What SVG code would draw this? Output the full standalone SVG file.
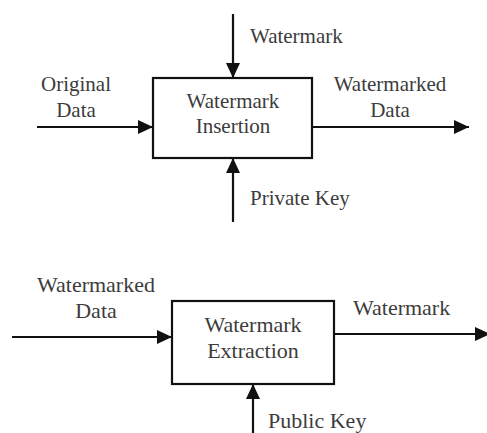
<svg xmlns="http://www.w3.org/2000/svg" width="487" height="433" viewBox="0 0 487 433">
<style>
.box{fill:#fff;stroke:#111;stroke-width:2.2}
.ln{stroke:#111;stroke-width:2.2;fill:none;marker-end:url(#ah)}
text{fill:#3c3c3c}
.t1{font-size:21px}
.t2{font-size:22px}
.c{text-anchor:middle}
</style>
<defs>
<marker id="ah" viewBox="0 0 15 14" refX="15" refY="7" markerWidth="15" markerHeight="14" markerUnits="userSpaceOnUse" orient="auto">
<path d="M0,0 L15,7 L0,14 Z" fill="#111"/>
</marker>
</defs>
<rect width="487" height="433" fill="#fff"/>
<g id="connectors">
<line class="ln" x1="233" y1="14" x2="233" y2="78"/>
<line class="ln" x1="37" y1="127" x2="153" y2="127"/>
<line class="ln" x1="312" y1="127" x2="469" y2="127"/>
<line class="ln" x1="233" y1="222" x2="233" y2="158"/>
<line class="ln" x1="12" y1="337" x2="172" y2="337"/>
<line class="ln" x1="334" y1="334" x2="490" y2="334"/>
<line class="ln" x1="253" y1="433" x2="253" y2="384"/>
</g>
<g font-family="Liberation Serif, DejaVu Serif, serif">
<g id="insertion">
<rect class="box" x="153" y="78" width="159" height="80"/>
<text class="t1 c" x="233" y="108">Watermark</text>
<text class="t1 c" x="233" y="133">Insertion</text>
</g>
<g id="extraction">
<rect class="box" x="172" y="301" width="162" height="83"/>
<text class="t2 c" x="253" y="332">Watermark</text>
<text class="t2 c" x="253" y="358">Extraction</text>
</g>
<g id="labels">
<text class="t1" x="250" y="43">Watermark</text>
<text class="t1 c" x="76" y="91">Original</text>
<text class="t1 c" x="76" y="117">Data</text>
<text class="t1 c" x="390" y="91">Watermarked</text>
<text class="t1 c" x="390" y="117">Data</text>
<text class="t1" x="250" y="205">Private Key</text>
<text class="t2 c" x="96" y="292">Watermarked</text>
<text class="t2 c" x="96" y="318">Data</text>
<text class="t2" x="353" y="315">Watermark</text>
<text class="t2" x="268" y="428">Public Key</text>
</g>
</g>
</svg>
